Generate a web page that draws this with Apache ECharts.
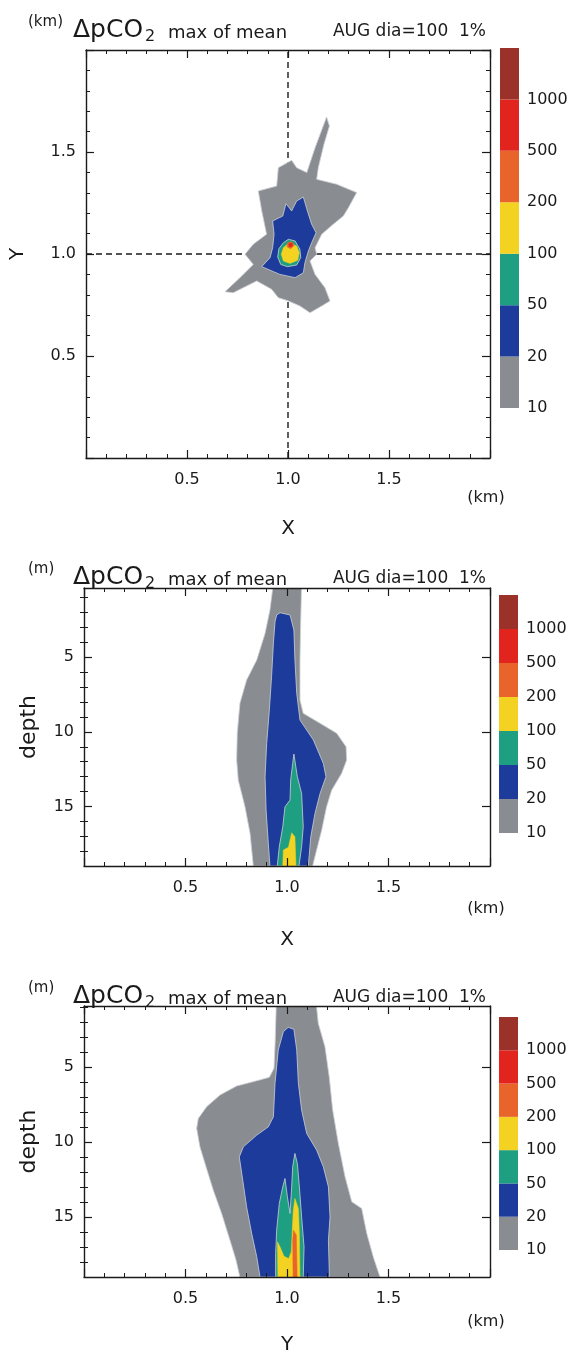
<!DOCTYPE html>
<html><head><meta charset="utf-8">
<script src="https://cdn.jsdelivr.net/npm/echarts@6/dist/echarts.min.js"></script>
<style>html,body{margin:0;padding:0;background:#fff}#c{width:577px;height:1356px}</style>
</head><body><div id="c"></div>
<script>
// ---- data ----
const LEVELS = [10, 20, 50, 100, 200, 500, 1000];
const LEVEL_COLORS = ['#898c91', '#1c3b9b', '#1f9f81', '#f3d222', '#e9642b', '#e2241f', '#9b3229'];
const KM_TICKS = [0.5, 1.0, 1.5];
const DEPTH_TICKS = [5, 10, 15];
const DEPTH_MINOR_TICKS = [1, 2, 3, 4, 6, 7, 8, 9, 11, 12, 13, 14, 16, 17, 18];
const CROSS_X = [[1.0, 0], [1.0, 2.0]];
const CROSS_Y = [[0, 1.0], [2.0, 1.0]];

// panel 1: horizontal section (x km, y km)
const xy10 = [[1.191,1.672],[1.205,1.627],[1.178,1.538],[1.150,1.423],[1.142,1.366],[1.241,1.342],[1.340,1.301],[1.299,1.227],[1.274,1.186],[1.224,1.146],[1.167,1.097],[1.134,1.031],[1.142,0.999],[1.109,0.966],[1.134,0.900],[1.183,0.835],[1.208,0.770],[1.167,0.745],[1.109,0.712],[1.059,0.745],[1.002,0.770],[0.952,0.786],[0.919,0.827],[0.845,0.868],[0.729,0.810],[0.688,0.815],[0.762,0.884],[0.828,0.949],[0.787,0.999],[0.828,1.048],[0.894,1.097],[0.870,1.211],[0.853,1.309],[0.944,1.333],[0.952,1.423],[1.018,1.459],[1.043,1.423],[1.093,1.399],[1.134,1.521]];
const xy20 = [[1.076,1.279],[1.096,1.211],[1.117,1.146],[1.139,1.104],[1.117,1.055],[1.101,1.015],[1.084,0.958],[1.076,0.908],[1.035,0.884],[0.960,0.900],[0.870,0.938],[0.911,0.982],[0.924,1.031],[0.931,1.097],[0.924,1.162],[0.974,1.186],[0.990,1.247],[1.018,1.211],[1.043,1.260]];
const xy50 = [[1.002,1.072],[1.035,1.064],[1.059,1.023],[1.063,0.982],[1.043,0.946],[0.997,0.938],[0.964,0.949],[0.949,0.985],[0.955,1.026],[0.977,1.055]];
const xy100 = [[1.007,1.055],[1.043,1.039],[1.056,1.006],[1.048,0.969],[1.010,0.954],[0.977,0.966],[0.967,0.999],[0.977,1.031]];
const xy200 = [[0.998,1.056],[1.021,1.060],[1.030,1.042],[1.014,1.026],[0.996,1.034]];
const xy500 = [[1.004,1.051],[1.020,1.053],[1.021,1.038],[1.006,1.036]];

// panel 2: vertical section along X (x km, depth m)
const xz10 = [[0.933,0],[0.916,1.83],[0.892,3.39],[0.851,5.18],[0.801,6.52],[0.768,8.09],[0.755,10.10],[0.752,11.89],[0.760,13.24],[0.793,15.03],[0.818,16.81],[0.834,19],[1.126,19],[1.146,17.93],[1.171,16.59],[1.195,15.03],[1.220,13.91],[1.269,12.79],[1.294,11.89],[1.291,11.0],[1.245,10.10],[1.163,9.43],[1.080,8.76],[1.064,7.87],[1.064,5.18],[1.067,2.95],[1.072,0]];
const xz20 = [[0.949,2.16],[0.966,2.01],[1.015,2.16],[1.034,3.17],[1.039,5.18],[1.048,7.42],[1.064,9.21],[1.130,10.55],[1.179,12.12],[1.192,13.01],[1.163,14.13],[1.138,15.47],[1.117,17.04],[1.105,19],[0.916,19],[0.908,17.48],[0.897,15.25],[0.892,13.01],[0.900,10.77],[0.913,8.54],[0.924,6.30],[0.933,4.06],[0.941,2.61]];
const xz50 = [[1.034,11.49],[1.051,13.01],[1.072,14.13],[1.080,16.37],[1.072,17.71],[1.059,19],[0.952,19],[0.962,17.71],[0.979,16.37],[0.990,15.03],[1.015,14.58],[1.018,13.24],[1.028,12.12]];
const xz100 = [[1.023,16.77],[1.039,17.04],[1.044,19],[0.979,19],[0.982,17.93],[1.007,17.75],[1.015,17.26]];

// panel 3: vertical section along Y (y km, depth m)
const yz10 = [[0.768,19],[0.749,17.88],[0.719,16.55],[0.678,14.77],[0.637,13.22],[0.601,11.66],[0.571,10.33],[0.555,9.10],[0.563,8.44],[0.604,7.66],[0.670,6.88],[0.752,6.28],[0.851,5.93],[0.913,5.70],[0.936,5.10],[0.942,3.22],[0.949,0],[1.138,0],[1.154,2.10],[1.187,3.66],[1.208,5.66],[1.225,7.88],[1.253,10.10],[1.286,12.33],[1.319,13.99],[1.368,14.44],[1.393,16.10],[1.425,17.66],[1.458,19]];
const yz20 = [[1.006,2.37],[1.034,2.50],[1.048,3.88],[1.056,6.10],[1.072,7.88],[1.097,9.44],[1.146,10.55],[1.179,11.66],[1.204,13.0],[1.212,15.0],[1.204,16.55],[1.209,19],[0.867,19],[0.851,17.66],[0.826,16.10],[0.801,14.33],[0.782,12.55],[0.765,11.0],[0.785,10.33],[0.851,9.55],[0.908,9.0],[0.933,8.33],[0.941,6.10],[0.957,3.88],[0.982,2.66]];
const yz50 = [[0.990,12.44],[1.002,13.66],[1.015,14.77],[1.023,13.0],[1.028,11.66],[1.039,10.77],[1.051,11.44],[1.061,13.0],[1.072,15.0],[1.084,17.0],[1.080,19],[0.944,19],[0.944,17.44],[0.949,15.88],[0.962,14.1],[0.979,13.0]];
const yz100 = [[1.039,13.77],[1.056,14.44],[1.061,16.10],[1.064,19],[0.955,19],[0.953,16.66],[0.966,17.0],[0.985,17.62],[1.008,17.77],[1.021,17.33],[1.026,15.88],[1.031,14.55]];
const yz200 = [[1.032,15.88],[1.046,16.21],[1.050,19],[1.030,19],[1.028,16.55]];

// ---- layout / rendering ----
const FONT = 'DejaVu Sans';
const INK = '#1a1a1a';
const option = {animation: false, backgroundColor: '#fff', grid: [], xAxis: [], yAxis: [], series: [], graphic: []};

const PANELS = [
  {grid: {left: 86, top: 50, width: 404, height: 408}, depth: false, unit: '(km)', xName: 'X', yName: 'Y',
   xNameGap: 61, yNameGap: 58, titleY: 30, kmY: 498,
   cb: {left: 500, top: 48, width: 19, height: 360},
   polys: [[xy10, 0], [xy20, 1], [xy50, 2], [xy100, 3], [xy200, 4], [xy500, 5]], cross: true},
  {grid: {left: 84, top: 588, width: 406, height: 278}, depth: true, dmin: 0.35, unit: '(m)', xName: 'X', yName: 'depth',
   xNameGap: 64, yNameGap: 44, titleY: 577, kmY: 909,
   cb: {left: 499, top: 595, width: 19, height: 238},
   polys: [[xz10, 0], [xz20, 1], [xz50, 2], [xz100, 3]]},
  {grid: {left: 84, top: 1006, width: 406, height: 271}, depth: true, dmin: 0.95, unit: '(m)', xName: 'Y', yName: 'depth',
   xNameGap: 58, yNameGap: 44, titleY: 996, kmY: 1322,
   cb: {left: 499, top: 1017, width: 19, height: 233},
   polys: [[yz10, 0], [yz20, 1], [yz50, 2], [yz100, 3], [yz200, 4]]}
];

const lineCommon = () => ({axisLine: {show: true, onZero: false, lineStyle: {color: INK, width: 1.4}}, splitLine: {show: false}, minorSplitLine: {show: false}, z: 10});
const labelStyle = {fontSize: 16, fontFamily: FONT, color: INK};
const nameStyle = {fontSize: 20, fontFamily: FONT, color: INK};

function addPanel(p) {
  const gi = option.grid.length;
  option.grid.push(Object.assign({}, p.grid));
  const kmAxis = (extra) => Object.assign({gridIndex: gi, type: 'value', min: 0, max: 2, interval: 0.5,
    axisTick: {show: true, inside: true, length: 8, lineStyle: {color: INK, width: 1.2}},
    minorTick: {show: true, splitNumber: 5, length: 4, lineStyle: {color: INK, width: 1}}}, lineCommon(), extra);
  const xb = option.xAxis.length;
  option.xAxis.push(kmAxis({position: 'bottom',
    axisLabel: Object.assign({show: true, margin: 14, formatter: v => KM_TICKS.includes(v) ? v.toFixed(1) : ''}, labelStyle),
    name: p.xName, nameLocation: 'middle', nameGap: p.xNameGap, nameTextStyle: nameStyle}));
  option.xAxis.push(kmAxis({position: 'top', axisLabel: {show: false}}));
  const yl = option.yAxis.length;
  if (p.depth) {
    const dAxis = (extra) => Object.assign({gridIndex: gi, type: 'value', min: p.dmin, max: 19, inverse: true}, lineCommon(), extra);
    const major = {show: true, inside: true, length: 8, customValues: DEPTH_TICKS, lineStyle: {color: INK, width: 1.2}};
    const minor = {show: true, inside: true, length: 4, customValues: DEPTH_MINOR_TICKS, lineStyle: {color: INK, width: 1}};
    option.yAxis.push(dAxis({position: 'left', axisTick: major,
      axisLabel: Object.assign({show: true, margin: 10, customValues: DEPTH_TICKS}, labelStyle),
      name: p.yName, nameLocation: 'middle', nameRotate: 90, nameGap: p.yNameGap,
      nameTextStyle: Object.assign({}, nameStyle, {fontSize: 22})}));
    option.yAxis.push(dAxis({position: 'right', axisTick: major, axisLabel: {show: false}}));
    option.yAxis.push(dAxis({position: 'left', axisLine: {show: false}, axisTick: minor, axisLabel: {show: false}}));
    option.yAxis.push(dAxis({position: 'right', axisLine: {show: false}, axisTick: minor, axisLabel: {show: false}}));
  } else {
    option.yAxis.push(kmAxis({position: 'left',
      axisLabel: Object.assign({show: true, margin: 10, formatter: v => KM_TICKS.includes(v) ? v.toFixed(1) : ''}, labelStyle),
      name: p.yName, nameLocation: 'middle', nameRotate: 90, nameGap: p.yNameGap, nameTextStyle: nameStyle}));
    option.yAxis.push(kmAxis({position: 'right', axisLabel: {show: false}}));
  }
  if (p.cross) {
    [CROSS_X, CROSS_Y].forEach(seg => option.series.push({type: 'line', xAxisIndex: xb, yAxisIndex: yl, data: seg,
      symbol: 'none', silent: true, z: 1, lineStyle: {color: INK, width: 1.4, type: [6, 4]}}));
  }
  p.polys.forEach(([pts, lvl]) => {
    const stroke = lvl <= 2 ? 'rgba(205,208,212,0.8)' : LEVEL_COLORS[lvl];
    option.series.push({type: 'custom', coordinateSystem: 'cartesian2d', xAxisIndex: xb, yAxisIndex: yl,
      clip: true, silent: true, z: 2, data: pts,
      renderItem: (params, api) => params.dataIndex === 0 ? {type: 'polygon',
        shape: {points: pts.map(q => api.coord(q))},
        style: {fill: LEVEL_COLORS[lvl], stroke: stroke, lineWidth: lvl <= 2 ? 1 : 0.5}} : null});
  });
  // colour bar
  const cg = option.grid.length;
  option.grid.push({left: p.cb.left, top: p.cb.top, width: p.cb.width, height: p.cb.height});
  const cx = option.xAxis.length;
  option.xAxis.push({gridIndex: cg, type: 'value', min: 0, max: 1, show: false});
  const cy = option.yAxis.length;
  option.yAxis.push({gridIndex: cg, type: 'value', min: 0, max: LEVELS.length, interval: 1, position: 'right',
    axisLine: {show: false}, axisTick: {show: false}, splitLine: {show: false},
    axisLabel: Object.assign({show: true, margin: 8, formatter: v => v < LEVELS.length ? String(LEVELS[v]) : ''}, labelStyle)});
  option.series.push({type: 'custom', coordinateSystem: 'cartesian2d', xAxisIndex: cx, yAxisIndex: cy, silent: true,
    data: LEVELS.map((lv, i) => [0, i]),
    renderItem: (params, api) => {
      const i = api.value(1);
      const a = api.coord([0, i]), b = api.coord([1, i + 1]);
      return {type: 'rect', shape: {x: a[0], y: b[1], width: b[0] - a[0], height: a[1] - b[1]},
        style: {fill: LEVEL_COLORS[params.dataIndex]}};
    }});
  // titles
  const ty = p.titleY;
  const t = (x, y, text, size, align) => option.graphic.push({type: 'text', x: x, y: y, silent: true,
    style: {text: text, fontSize: size, fontFamily: FONT, fill: INK, align: align || 'left', verticalAlign: 'middle'}});
  t(28, ty - 8, p.unit, 15);
  t(73, ty, 'ΔpCO', 25);
  t(145, ty + 7, '2', 16);
  t(168, ty + 3, 'max of mean', 18);
  t(486, ty + 2, 'AUG dia=100  1%', 17, 'right');
  t(486, p.kmY, '(km)', 16, 'center');
}
PANELS.forEach(addPanel);

const chart = echarts.init(document.getElementById('c'), null, {renderer: 'canvas'});
chart.setOption(option);
</script>
</body></html>
